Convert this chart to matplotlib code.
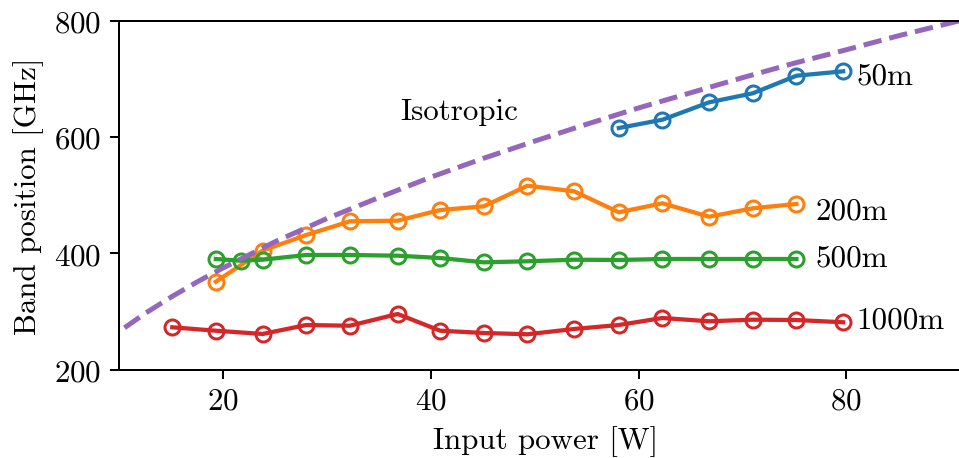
import matplotlib
matplotlib.use("Agg")
import matplotlib.pyplot as plt

plt.rcParams['font.family'] = ['cmr10']
plt.rcParams['mathtext.fontset'] = 'cm'
plt.rcParams['axes.formatter.use_mathtext'] = True
plt.rcParams['font.size'] = 12.4

# ---- data ----
x_50m = [58.1, 62.3, 66.8, 71.0, 75.2, 79.7]
y_50m = [615.5, 629.8, 659.7, 675.2, 705.4, 713.0]

x_200m = [19.3, 23.8, 28.0, 32.2, 36.8, 40.9, 45.1, 49.3, 53.8, 58.1, 62.3, 66.8, 71.0, 75.2]
y_200m = [351.3, 404.6, 431.6, 455.1, 456.2, 474.5, 480.9, 516.3, 506.7, 470.6, 486.1, 463.0, 477.5, 484.9]

x_500m = [19.3, 21.7, 23.8, 28.0, 32.2, 36.8, 40.9, 45.1, 49.3, 53.8, 58.1, 62.3, 66.8, 71.0, 75.2]
y_500m = [390.3, 387.4, 389.1, 397.2, 397.2, 396.0, 392.0, 384.6, 386.4, 389.1, 388.6, 390.3, 390.3, 390.3, 390.3]

x_1000m = [15.1, 19.3, 23.8, 28.0, 32.2, 36.8, 40.9, 45.1, 49.3, 53.8, 58.1, 62.3, 66.8, 71.0, 75.2, 79.7]
y_1000m = [272.9, 267.0, 261.4, 276.8, 275.6, 295.8, 267.0, 263.1, 260.9, 270.0, 276.8, 288.9, 283.2, 286.0, 285.4, 281.5]

x_iso = [10.5, 12.5, 15, 17.5, 20, 25, 30, 35, 40, 45, 50, 55, 60, 65, 70, 75, 80, 85, 90, 95]
y_iso = [272, 297, 325, 351, 375, 420, 460, 496, 531, 563, 593, 622, 650, 676, 702, 727, 750, 774, 796, 818]

series_labels = ["50m", "200m", "500m", "1000m"]
label_pos = [(81.0, 705), (77.0, 474), (77.0, 393), (81.0, 285)]
iso_label = "Isotropic"
iso_label_pos = (37.1, 645)

xticks = [20, 40, 60, 80]
yticks = [200, 400, 600, 800]

# ---- figure ----
dpi = 180
fig = plt.figure(figsize=(959 / dpi, 459 / dpi), dpi=dpi)
ax = fig.add_axes([0.1244, 0.1924, 0.888, 0.7603])

series = [(x_50m, y_50m), (x_200m, y_200m), (x_500m, y_500m), (x_1000m, y_1000m)]
for (xs, ys) in series:
    ax.plot(xs, ys, marker='o', markerfacecolor='none', markersize=6,
            markeredgewidth=1.2, linewidth=1.7)

ax.plot(x_iso, y_iso, linestyle='--', color='C4', linewidth=2.0)

for lab, (lx, ly) in zip(series_labels, label_pos):
    ax.text(lx, ly, lab, ha='left', va='center')
ax.text(iso_label_pos[0], iso_label_pos[1], iso_label, ha='left', va='center')

ax.set_xlim(10, 92)
ax.set_ylim(200, 800)
ax.set_xticks(xticks)
ax.set_yticks(yticks)
ax.spines['right'].set_visible(False)
ax.set_xlabel("Input power [W]")
ax.set_ylabel("Band position [GHz]")

fig.savefig("out.png", dpi=dpi)
